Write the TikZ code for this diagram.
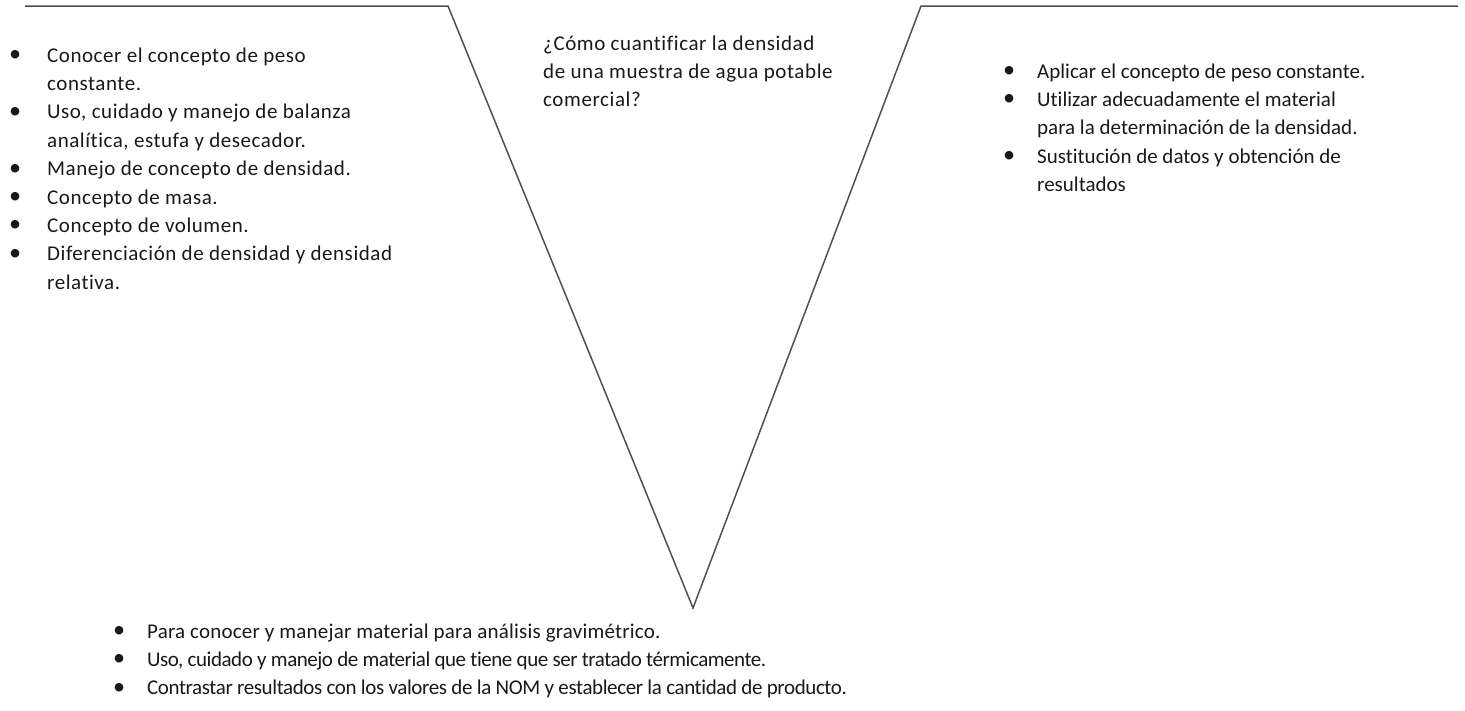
\documentclass[tikz,border=0pt]{standalone}
\usepackage{fontspec}
\setmainfont[Ligatures=NoCommon]{Carlito}
\usepackage{array}
\definecolor{vline}{RGB}{80,80,80}
\definecolor{ink}{RGB}{25,25,25}
\tikzset{
  vedge/.style={draw=vline, line width=1.5pt, line join=miter},
  listbox/.style={anchor=base west, inner sep=0pt, text=ink,
    font=\fontsize{21}{28.4}\selectfont},
}
\newcommand{\bul}{\raisebox{0.5pt}{\scalebox{1.15}{\textbullet}}}
\newcommand{\spaced}[1]{\addfontfeature{LetterSpace=#1}}
\begin{document}
\begin{tikzpicture}[x=1pt,y=-1pt]
\useasboundingbox (0,0) rectangle (1465,710);
% the V outline
\coordinate (tl) at (25,6);
\coordinate (lc) at (448,6);
\coordinate (apex) at (693,608);
\coordinate (rc) at (921,6);
\coordinate (tr) at (1458,6);
\draw[vedge] (tl) -- (lc) -- (apex) -- (rc) -- (tr);

% left column
\node[listbox] (left) at (9,62) {\spaced{2.6}%
\begin{tabular}[t]{@{}p{38pt}@{}l@{}}
\bul & Conocer el concepto de peso\\
     & constante.\\
\bul & Uso, cuidado y manejo de balanza\\
     & analítica, estufa y desecador.\\
\bul & Manejo de concepto de densidad.\\
\bul & Concepto de masa.\\
\bul & Concepto de volumen.\\
\bul & Diferenciación de densidad y densidad\\
     & relativa.
\end{tabular}};

% central question
\node[listbox] (question) at (543,50) {\spaced{2.8}%
\begin{tabular}[t]{@{}l@{}}
¿Cómo cuantificar la densidad\\
de una muestra de agua potable\\
comercial?
\end{tabular}};

% right column
\node[listbox] (right) at (1003,78) {%
\begin{tabular}[t]{@{}p{34pt}@{}l@{}}
\bul & Aplicar el concepto de peso constante.\\
\bul & Utilizar adecuadamente el material\\
     & para la determinación de la densidad.\\
\bul & Sustitución de datos y obtención de\\
     & resultados
\end{tabular}};

% bottom column
\node[listbox] (bottom) at (113,638) {%
\begin{tabular}[t]{@{}p{34pt}@{}l@{}}
\bul & {\spaced{1.0}Para conocer y manejar material para análisis gravimétrico.}\\
\bul & {\spaced{-2.2}Uso, cuidado y manejo de material que tiene que ser tratado térmicamente.}\\
\bul & {\spaced{-1.9}Contrastar resultados con los valores de la NOM y establecer la cantidad de producto.}
\end{tabular}};
\end{tikzpicture}
\end{document}
